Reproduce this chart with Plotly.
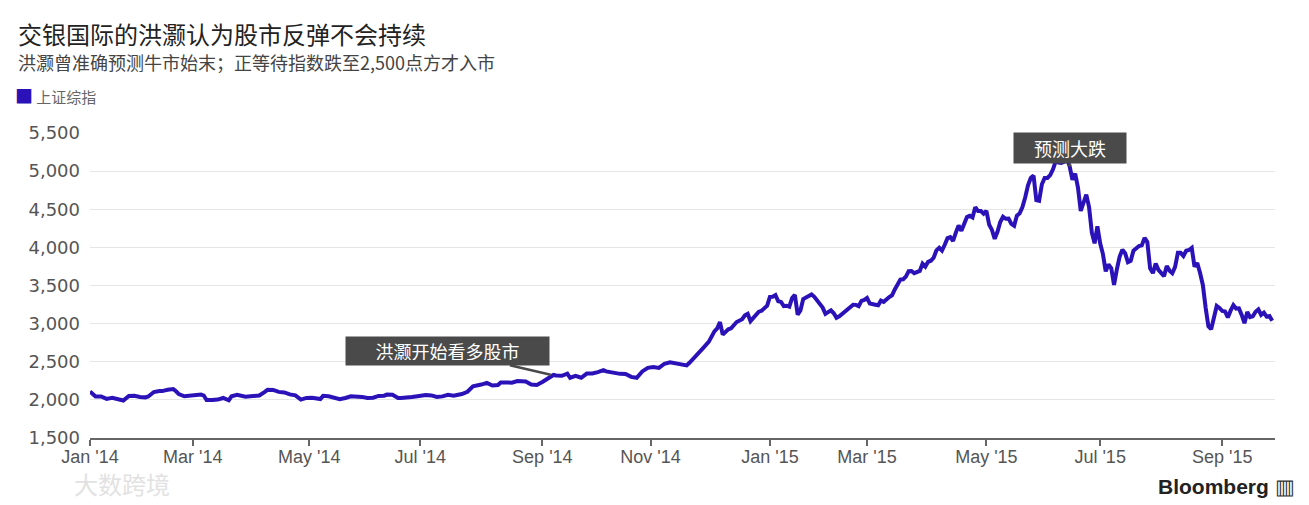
import pandas as pd
import plotly.graph_objects as go

# ---- data (Shanghai Composite) ----
dates = [
    "2014-01-02","2014-01-03","2014-01-06","2014-01-08","2014-01-10","2014-01-14","2014-01-17","2014-01-20",
    "2014-01-22","2014-01-24","2014-01-28","2014-01-30","2014-02-07","2014-02-11","2014-02-13","2014-02-14",
    "2014-02-18","2014-02-20","2014-02-21","2014-02-24","2014-02-26","2014-02-28","2014-03-04","2014-03-06",
    "2014-03-07","2014-03-10","2014-03-12","2014-03-14","2014-03-18","2014-03-20","2014-03-21","2014-03-25",
    "2014-03-28","2014-04-01","2014-04-03","2014-04-04","2014-04-09","2014-04-10","2014-04-14","2014-04-16",
    "2014-04-18","2014-04-22","2014-04-24","2014-04-25","2014-04-28","2014-04-30","2014-05-06","2014-05-09",
    "2014-05-12","2014-05-14","2014-05-16","2014-05-20","2014-05-22","2014-05-26","2014-05-30","2014-06-04",
    "2014-06-06","2014-06-10","2014-06-12","2014-06-13","2014-06-17","2014-06-19","2014-06-20","2014-06-24",
    "2014-06-26","2014-06-30","2014-07-03","2014-07-07","2014-07-09","2014-07-11","2014-07-15","2014-07-17",
    "2014-07-18","2014-07-22","2014-07-24","2014-07-28","2014-07-31","2014-08-04","2014-08-06","2014-08-08",
    "2014-08-11","2014-08-13","2014-08-15","2014-08-19","2014-08-21","2014-08-22","2014-08-26","2014-08-28",
    "2014-09-01","2014-09-03","2014-09-05","2014-09-09","2014-09-11","2014-09-15","2014-09-16","2014-09-18",
    "2014-09-22","2014-09-24","2014-09-26","2014-09-30","2014-10-09","2014-10-10","2014-10-14","2014-10-16",
    "2014-10-17","2014-10-21","2014-10-23","2014-10-27","2014-10-29","2014-10-31","2014-11-04","2014-11-06",
    "2014-11-10","2014-11-12","2014-11-14","2014-11-18","2014-11-20","2014-11-21","2014-11-24","2014-11-26",
    "2014-11-28","2014-12-02","2014-12-04","2014-12-05","2014-12-08","2014-12-09","2014-12-11","2014-12-12",
    "2014-12-16","2014-12-18","2014-12-19","2014-12-22","2014-12-23","2014-12-26","2014-12-29","2014-12-31",
    "2015-01-05","2015-01-06","2015-01-07","2015-01-08","2015-01-09","2015-01-12","2015-01-13","2015-01-14",
    "2015-01-15","2015-01-16","2015-01-19","2015-01-20","2015-01-21","2015-01-22","2015-01-23","2015-01-26",
    "2015-01-27","2015-01-28","2015-01-29","2015-01-30","2015-02-02","2015-02-04","2015-02-05","2015-02-06",
    "2015-02-09","2015-02-11","2015-02-13","2015-02-16","2015-02-17","2015-02-25","2015-02-26","2015-02-27",
    "2015-03-02","2015-03-03","2015-03-05","2015-03-06","2015-03-09","2015-03-10","2015-03-12","2015-03-13",
    "2015-03-16","2015-03-17","2015-03-18","2015-03-19","2015-03-20","2015-03-23","2015-03-24","2015-03-25",
    "2015-03-26","2015-03-27","2015-03-30","2015-03-31","2015-04-01","2015-04-02","2015-04-03","2015-04-07",
    "2015-04-08","2015-04-09","2015-04-10","2015-04-13","2015-04-14","2015-04-15","2015-04-16","2015-04-17",
    "2015-04-20","2015-04-21","2015-04-22","2015-04-23","2015-04-24","2015-04-27","2015-04-28","2015-04-29",
    "2015-04-30","2015-05-04","2015-05-05","2015-05-06","2015-05-07","2015-05-08","2015-05-11","2015-05-12",
    "2015-05-13","2015-05-14","2015-05-15","2015-05-18","2015-05-19","2015-05-20","2015-05-21","2015-05-22",
    "2015-05-25","2015-05-26","2015-05-27","2015-05-28","2015-05-29","2015-06-01","2015-06-02","2015-06-03",
    "2015-06-04","2015-06-05","2015-06-08","2015-06-09","2015-06-10","2015-06-11","2015-06-12","2015-06-15",
    "2015-06-16","2015-06-17","2015-06-18","2015-06-19","2015-06-23","2015-06-24","2015-06-25","2015-06-26",
    "2015-06-29","2015-06-30","2015-07-01","2015-07-02","2015-07-03","2015-07-06","2015-07-07","2015-07-08",
    "2015-07-09","2015-07-10","2015-07-13","2015-07-14","2015-07-15","2015-07-16","2015-07-17","2015-07-20",
    "2015-07-21","2015-07-22","2015-07-23","2015-07-24","2015-07-27","2015-07-28","2015-07-29","2015-07-30",
    "2015-07-31","2015-08-03","2015-08-04","2015-08-05","2015-08-06","2015-08-07","2015-08-10","2015-08-11",
    "2015-08-12","2015-08-13","2015-08-14","2015-08-17","2015-08-18","2015-08-19","2015-08-20","2015-08-21",
    "2015-08-24","2015-08-25","2015-08-26","2015-08-27","2015-08-28","2015-08-31","2015-09-01","2015-09-02",
    "2015-09-07","2015-09-08","2015-09-09","2015-09-10","2015-09-11","2015-09-14","2015-09-15","2015-09-16",
    "2015-09-17","2015-09-18","2015-09-21","2015-09-22","2015-09-23","2015-09-24","2015-09-25","2015-09-28",
    "2015-09-29",
]
values = [
    2109,2083,2045,2044,2013,2026,2004,1991,
    2052,2054,2038,2033,2044,2103,2116,2115,
    2132,2141,2113,2076,2047,2056,2071,2071,
    2057,1999,1997,2004,2025,1994,2047,2067,
    2041,2047,2043,2058,2105,2134,2131,2105,
    2098,2072,2060,2036,2004,2026,2028,2011,
    2053,2047,2026,2008,2025,2048,2039,2024,
    2029,2052,2055,2070,2067,2024,2026,2038,
    2037,2048,2063,2059,2038,2046,2067,2055,
    2059,2076,2107,2178,2201,2223,2188,2194,
    2228,2224,2226,2246,2240,2241,2202,2195,
    2235,2289,2327,2319,2316,2344,2290,2315,
    2290,2345,2347,2364,2389,2374,2359,2350,
    2341,2340,2302,2290,2373,2420,2430,2419,
    2474,2494,2478,2457,2452,2487,2532,2604,
    2683,2763,2899,2937,3020,2856,2925,2938,
    3021,3057,3108,3128,3032,3157,3168,3235,
    3351,3352,3374,3294,3285,3229,3235,3222,
    3336,3376,3116,3173,3323,3343,3351,3383,
    3352,3305,3262,3210,3128,3174,3136,3076,
    3095,3157,3203,3247,3246,3229,3298,3310,
    3336,3263,3248,3241,3302,3286,3349,3372,
    3449,3503,3577,3582,3617,3688,3691,3661,
    3683,3691,3786,3748,3810,3825,3864,3961,
    3994,3957,4034,4121,4135,4084,4194,4287,
    4217,4293,4398,4414,4393,4527,4476,4476,
    4441,4480,4298,4229,4112,4205,4333,4401,
    4375,4378,4308,4283,4417,4446,4530,4657,
    4813,4910,4941,4620,4611,4828,4910,4910,
    4947,5023,5131,5113,5106,5121,5166,5062,
    4887,4967,4785,4478,4576,4691,4527,4192,
    4053,4277,4053,3912,3686,3775,3727,3507,
    3709,3877,3970,3924,3805,3823,3957,3992,
    4017,4026,4124,4070,3725,3663,3789,3705,
    3664,3623,3756,3695,3661,3744,3928,3928,
    3887,3955,3965,3993,3748,3794,3664,3507,
    3210,2965,2927,3084,3232,3206,3166,3160,
    3080,3170,3243,3197,3200,3114,3005,3152,
    3086,3097,3156,3186,3115,3143,3092,3100,
    3038,
]

# market holidays (weekdays with no trading) -> removed from the time axis
holidays = [
    "2014-01-01","2014-01-31","2014-02-03","2014-02-04","2014-02-05","2014-02-06","2014-04-07",
    "2014-05-01","2014-05-02","2014-06-02","2014-09-08","2014-10-01","2014-10-02","2014-10-03",
    "2014-10-06","2014-10-07","2015-01-01","2015-01-02","2015-02-18","2015-02-19","2015-02-20",
    "2015-02-23","2015-02-24","2015-04-06","2015-05-01","2015-06-22","2015-09-03","2015-09-04",
]

tick_dates = ["2014-01-02","2014-03-03","2014-05-05","2014-07-01","2014-09-01","2014-11-03",
              "2015-01-05","2015-03-02","2015-05-04","2015-07-01","2015-09-01"]
tick_labels = ["Jan '14","Mar '14","May '14","Jul '14","Sep '14","Nov '14",
               "Jan '15","Mar '15","May '15","Jul '15","Sep '15"]
y_ticks = [1500, 2000, 2500, 3000, 3500, 4000, 4500, 5000, 5500]

series_name = "上证综指"
title = "交银国际的洪灏认为股市反弹不会持续"
subtitle = "洪灏曾准确预测牛市始末；正等待指数跌至2,500点方才入市"
note1 = ("2014-09-04", 2330, "洪灏开始看多股市")
note2 = ("2015-06-15", 5062, "预测大跌")

LINE = "#2a12b8"
CJK = "Noto Sans CJK SC"
LAT = "Liberation Sans, Arial, sans-serif"
BOX = "#4a4a4a"

fig = go.Figure()
fig.add_trace(go.Scatter(
    x=pd.to_datetime(dates), y=values, mode="lines", name=series_name,
    line=dict(color=LINE, width=4), showlegend=False,
))

PW = 1309 - 90 - 34   # plot width in px
PH = 438 - 133        # plot height in px

fig.update_layout(
    width=1309, height=505,
    margin=dict(l=90, r=34, t=133, b=67),
    paper_bgcolor="white", plot_bgcolor="white",
    font=dict(family=LAT, color="#555"),
)
fig.update_xaxes(
    type="date",
    range=["2014-01-02", "2015-09-30"],
    rangebreaks=[dict(bounds=["sat", "mon"]), dict(values=holidays)],
    tickvals=tick_dates, ticktext=tick_labels,
    showgrid=False, showline=True, linecolor="#666", linewidth=2,
    ticks="outside", ticklen=6, tickwidth=1.5, tickcolor="#666",
    ticklabelstandoff=-5,
    tickfont=dict(family=LAT, size=18, color="#555"),
    zeroline=False,
)
fig.update_yaxes(
    range=[1500, 5500], tickvals=y_ticks,
    tickformat=",d",
    showgrid=True, gridcolor="#e6e6e6", gridwidth=1,
    zeroline=False, showline=False, ticks="",
    ticklabelstandoff=9,
    tickfont=dict(family="DejaVu Sans, sans-serif", size=18, color="#555"),
)

def px_x(x):
    return (x - 90) / PW

def px_y(y):
    return (438 - y) / PH

annotations = [
    dict(xref="paper", yref="paper", x=px_x(16), y=px_y(33), xanchor="left", yanchor="middle",
         text=title, showarrow=False, font=dict(family=CJK, size=24, color="#222")),
    dict(xref="paper", yref="paper", x=px_x(16), y=px_y(62), xanchor="left", yanchor="middle",
         text=subtitle, showarrow=False, font=dict(family=CJK, size=18, color="#444")),
    dict(xref="paper", yref="paper", x=px_x(13), y=px_y(95), xanchor="left", yanchor="middle",
         text=f"<span style='color:{LINE};font-size:18px'>■</span> {series_name}", showarrow=False,
         font=dict(family=CJK, size=15, color="#666")),
    dict(x=pd.Timestamp(note1[0]), y=note1[1], text=note1[2], showarrow=True,
         ax=-103, ay=-24, arrowhead=0, arrowwidth=2.5, arrowcolor=BOX,
         width=193, height=18, borderpad=5,
         bgcolor=BOX, font=dict(family=CJK, size=18, color="white")),
    dict(x=pd.Timestamp(note2[0]), y=note2[1], text=note2[2], showarrow=True,
         ax=0, ay=-18, arrowhead=0, arrowwidth=3, arrowcolor=BOX,
         width=102, height=20, borderpad=5,
         bgcolor=BOX, font=dict(family=CJK, size=18, color="white")),
    dict(xref="paper", yref="paper", x=px_x(1297), y=px_y(486), xanchor="right", yanchor="middle",
         text="<b>Bloomberg</b> <span style='color:#333'>▥</span>", showarrow=False,
         font=dict(family=LAT, size=21, color="#222")),
    dict(xref="paper", yref="paper", x=px_x(72), y=px_y(483), xanchor="left", yanchor="middle",
         text="大数跨境", showarrow=False, font=dict(family=CJK, size=24, color="#e2e2e2")),
]
fig.update_layout(annotations=annotations)

fig.write_html("out.html", config={"displayModeBar": False},
               post_script="document.body.style.margin='0';document.body.style.padding='0';")
